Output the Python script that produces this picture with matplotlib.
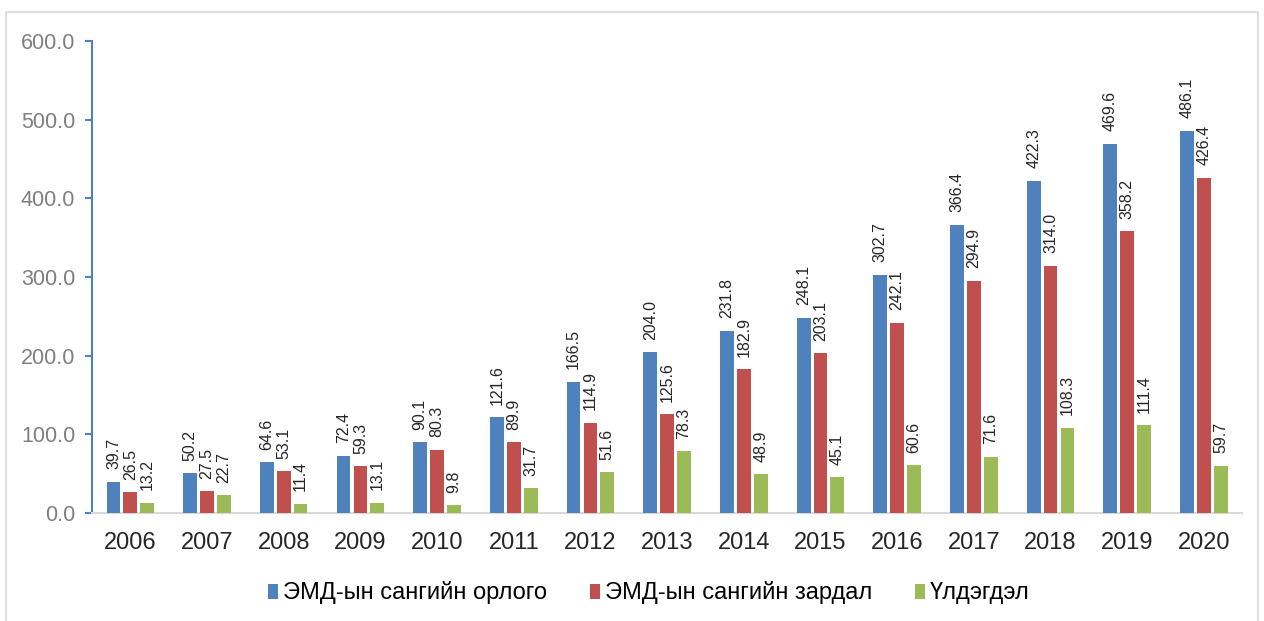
import numpy as np
import matplotlib.pyplot as plt
from matplotlib.patches import Rectangle

plt.rcParams['font.family'] = ['Liberation Sans', 'DejaVu Sans']

years = ['2006', '2007', '2008', '2009', '2010', '2011', '2012', '2013',
         '2014', '2015', '2016', '2017', '2018', '2019', '2020']
income = [39.7, 50.2, 64.6, 72.4, 90.1, 121.6, 166.5, 204.0,
          231.8, 248.1, 302.7, 366.4, 422.3, 469.6, 486.1]
expense = [26.5, 27.5, 53.1, 59.3, 80.3, 89.9, 114.9, 125.6,
           182.9, 203.1, 242.1, 294.9, 314.0, 358.2, 426.4]
balance = [13.2, 22.7, 11.4, 13.1, 9.8, 31.7, 51.6, 78.3,
           48.9, 45.1, 60.6, 71.6, 108.3, 111.4, 59.7]
series_names = ['ЭМД-ын сангийн орлого', 'ЭМД-ын сангийн зардал', 'Үлдэгдэл']
colors = ['#4F81BD', '#C0504D', '#9BBB59']

fig = plt.figure(figsize=(12.64, 6.21), dpi=100)
ax = fig.add_axes([0.0728, 0.174, 0.910, 0.760])

# outer chart border
fig.patches.append(Rectangle((6 / 1264, -0.01), 1252 / 1264, 1 - 12 / 621 + 0.01,
                             transform=fig.transFigure, fill=False,
                             edgecolor='#d9d9d9', linewidth=1.2))

x = np.arange(len(years))
width = 0.18
step = 0.22
for i, (vals, name, c) in enumerate(zip([income, expense, balance], series_names, colors)):
    pos = x + (i - 1) * step
    ax.bar(pos, vals, width=width, color=c, label=name, zorder=3)
    for xp, v in zip(pos, vals):
        ax.annotate(f'{v:.1f}', (xp, v), xytext=(0, 9), textcoords='offset points',
                    rotation=90, ha='center', va='bottom', fontsize=11.5, color='#262626')

ax.set_xlim(-0.5, len(years) - 0.5)
ax.set_ylim(0, 600)
ax.set_yticks(np.arange(0, 601, 100))
ax.set_yticklabels([f'{v:.1f}' for v in np.arange(0, 601, 100)])
ax.set_xticks(x)
ax.set_xticklabels(years)

for s in ['top', 'right']:
    ax.spines[s].set_visible(False)
ax.spines['left'].set_color('#4F81BD')
ax.spines['left'].set_linewidth(1.5)
ax.spines['bottom'].set_color('#d9d9d9')
ax.spines['bottom'].set_linewidth(1.5)
ax.tick_params(axis='y', colors='#4F81BD', labelcolor='#7f7f7f', labelsize=15.5,
               length=5, width=1.5, direction='out', pad=7)
ax.tick_params(axis='x', length=0, labelsize=17, labelcolor='#262626', pad=14)

ax.legend(loc='upper center', bbox_to_anchor=(0.484, -0.1), ncol=3, frameon=False,
          fontsize=17, handlelength=0.45, handleheight=0.6, handletextpad=0.2,
          columnspacing=1.8)

fig.savefig('out.png', dpi=100)
